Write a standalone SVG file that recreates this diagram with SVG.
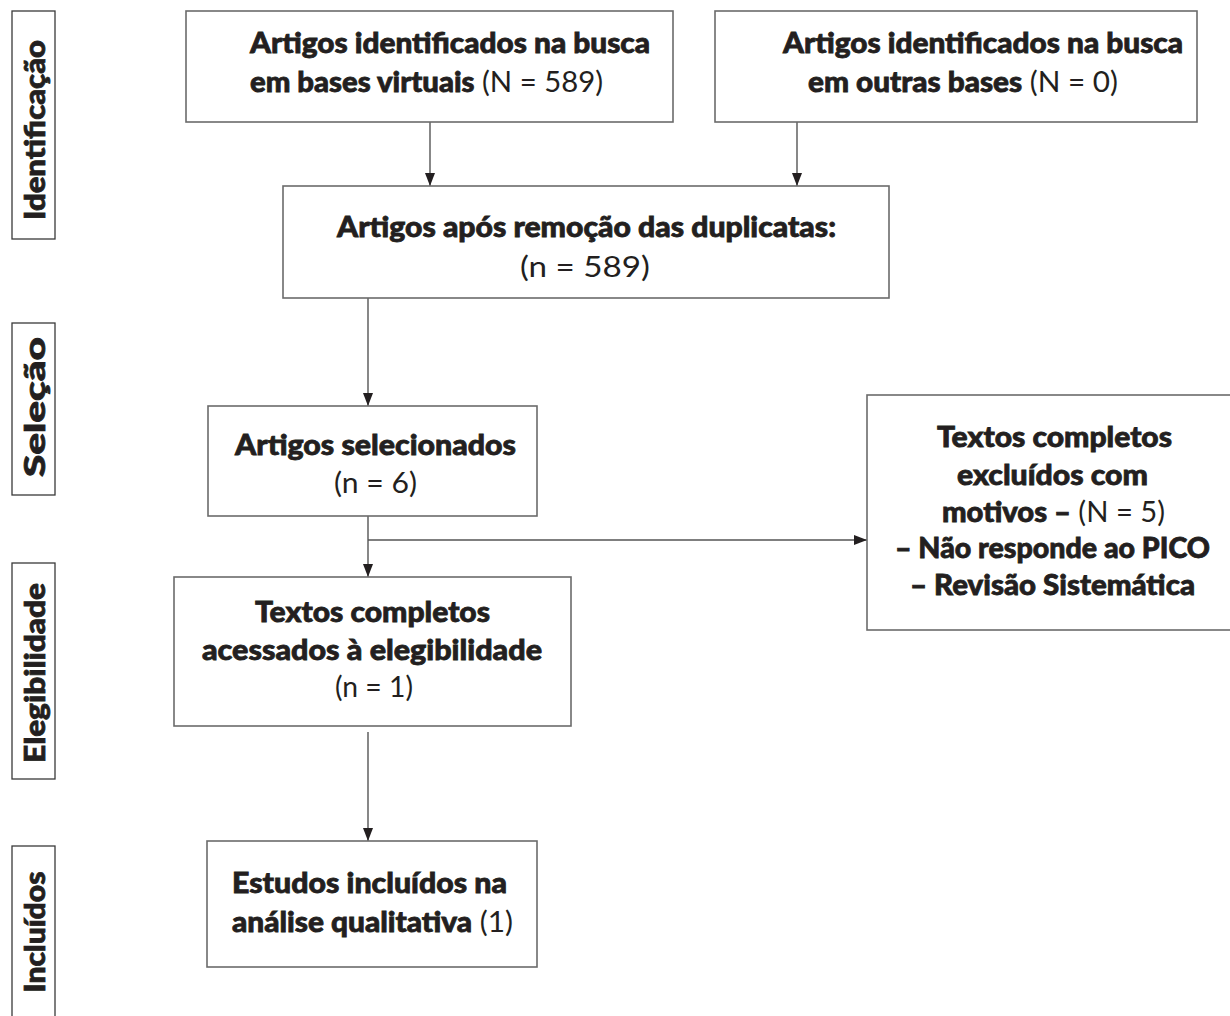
<svg xmlns="http://www.w3.org/2000/svg" width="1230" height="1016" viewBox="0 0 1230 1016">
<style>
.box{fill:#fff;stroke:#6b6b6b;stroke-width:1.6}
.side{fill:none;stroke:#3a3a3a;stroke-width:1.3}
.t{font-family:Lato,"Liberation Sans",sans-serif;font-size:29px;fill:#231f20;font-weight:900;stroke:#231f20;stroke-width:0.8}
.s{font-family:Lato,"Liberation Sans",sans-serif;font-size:29px;fill:#231f20;font-weight:900;stroke:#231f20;stroke-width:0.8}
.r{font-weight:400;stroke:none}
.c{stroke:#555;stroke-width:1.4;fill:none}
</style>
<defs>
<marker id="ah" markerWidth="13" markerHeight="10" refX="13" refY="5" orient="auto" markerUnits="userSpaceOnUse" viewBox="0 0 13 10">
<path d="M0,0 L13,5 L0,10 z" fill="#231f20"/>
</marker>
</defs>
<rect width="1230" height="1016" fill="#fff"/>

<g id="side-identificacao">
<rect class="side" x="12" y="11" width="43" height="228"/>
<text class="s" transform="translate(45,130) rotate(-90)" text-anchor="middle" textLength="180" lengthAdjust="spacingAndGlyphs">Identificação</text>
</g>
<g id="side-selecao">
<rect class="side" x="12" y="323" width="43" height="172"/>
<text class="s" transform="translate(45,407) rotate(-90)" text-anchor="middle" textLength="140" lengthAdjust="spacingAndGlyphs">Seleção</text>
</g>
<g id="side-elegibilidade">
<rect class="side" x="12" y="563" width="43" height="216"/>
<text class="s" transform="translate(45,673) rotate(-90)" text-anchor="middle" textLength="180" lengthAdjust="spacingAndGlyphs">Elegibilidade</text>
</g>
<g id="side-incluidos">
<rect class="side" x="12" y="846" width="43" height="190"/>
<text class="s" transform="translate(45,932) rotate(-90)" text-anchor="middle" textLength="121" lengthAdjust="spacingAndGlyphs">Incluídos</text>
</g>

<g id="connectors">
<path class="c" d="M430,122 V186" marker-end="url(#ah)"/>
<path class="c" d="M797,122 V186" marker-end="url(#ah)"/>
<path class="c" d="M368,298 V406" marker-end="url(#ah)"/>
<path class="c" d="M368,516 V577" marker-end="url(#ah)"/>
<path class="c" d="M368,540 H867" marker-end="url(#ah)"/>
<path class="c" d="M368,732 V841" marker-end="url(#ah)"/>
</g>

<g id="n-virtuais">
<rect class="box" x="186" y="11" width="487" height="111"/>
<text class="t" x="250" y="53" textLength="400" lengthAdjust="spacingAndGlyphs">Artigos identificados na busca</text>
<text class="t" x="250" y="92" textLength="353" lengthAdjust="spacingAndGlyphs">em bases virtuais<tspan class="r"> (N = 589)</tspan></text>
</g>

<g id="n-outras">
<rect class="box" x="715" y="11" width="482" height="111"/>
<text class="t" x="783" y="53" textLength="400" lengthAdjust="spacingAndGlyphs">Artigos identificados na busca</text>
<text class="t" x="808" y="92" textLength="310" lengthAdjust="spacingAndGlyphs">em outras bases<tspan class="r"> (N = 0)</tspan></text>
</g>

<g id="n-duplicatas">
<rect class="box" x="283" y="186" width="606" height="112"/>
<text class="t" x="337" y="237" textLength="499" lengthAdjust="spacingAndGlyphs">Artigos após remoção das duplicatas:</text>
<text class="t r" x="520" y="277" textLength="130" lengthAdjust="spacingAndGlyphs">(n = 589)</text>
</g>

<g id="n-selecionados">
<rect class="box" x="208" y="406" width="329" height="110"/>
<text class="t" x="235" y="455" textLength="281" lengthAdjust="spacingAndGlyphs">Artigos selecionados</text>
<text class="t r" x="334" y="493" textLength="83" lengthAdjust="spacingAndGlyphs">(n = 6)</text>
</g>

<g id="n-excluidos">
<rect class="box" x="867" y="395" width="375" height="235"/>
<text class="t" x="937" y="447" textLength="235" lengthAdjust="spacingAndGlyphs">Textos completos</text>
<text class="t" x="957" y="485" textLength="191" lengthAdjust="spacingAndGlyphs">excluídos com</text>
<text class="t" x="942" y="522" textLength="223" lengthAdjust="spacingAndGlyphs">motivos –<tspan class="r"> (N = 5)</tspan></text>
<text class="t" x="895" y="558" textLength="315" lengthAdjust="spacingAndGlyphs">– Não responde ao PICO</text>
<text class="t" x="910" y="595" textLength="285" lengthAdjust="spacingAndGlyphs">– Revisão Sistemática</text>
</g>

<g id="n-elegibilidade">
<rect class="box" x="174" y="577" width="397" height="149"/>
<text class="t" x="255" y="622" textLength="235" lengthAdjust="spacingAndGlyphs">Textos completos</text>
<text class="t" x="202" y="660" textLength="340" lengthAdjust="spacingAndGlyphs">acessados à elegibilidade</text>
<text class="t r" x="335" y="697" textLength="78" lengthAdjust="spacingAndGlyphs">(n = 1)</text>
</g>

<g id="n-incluidos">
<rect class="box" x="207" y="841" width="330" height="126"/>
<text class="t" x="232" y="893" textLength="275" lengthAdjust="spacingAndGlyphs">Estudos incluídos na</text>
<text class="t" x="232" y="932" textLength="281" lengthAdjust="spacingAndGlyphs">análise qualitativa<tspan class="r"> (1)</tspan></text>
</g>
</svg>
